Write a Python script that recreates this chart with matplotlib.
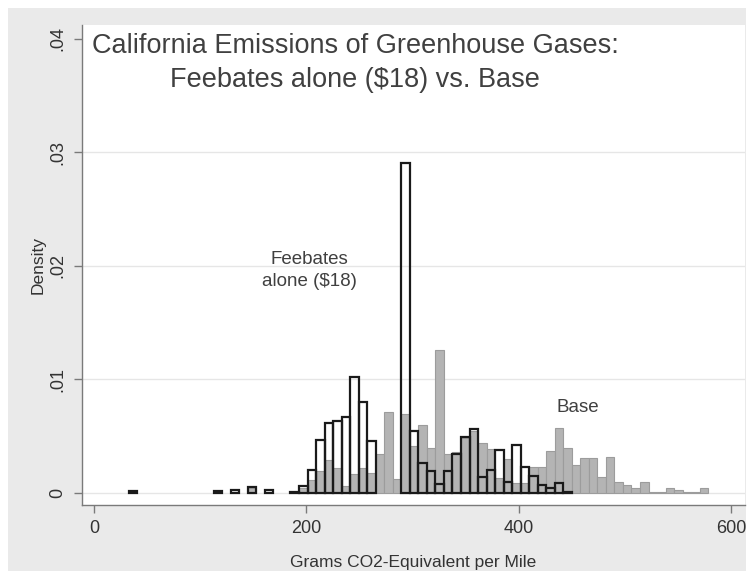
#!/usr/bin/env python
"""Overlayed density histograms of CO2 emissions: feebates alone vs. base."""

import numpy as np
import matplotlib.pyplot as plt
from matplotlib.patches import Rectangle

# bins shared by both histograms (grams CO2-equivalent per mile)
bin_start = 32.5
bin_width = 8.03
n_bins = 68

# density per bin
feebates = [
    0.0002, 0, 0, 0, 0, 0, 0, 0, 0, 0,
    0.0002, 0, 0.0003, 0, 0.0005, 0, 0.0003, 0, 0, 0.0001,
    0.0006, 0.0020, 0.0047, 0.0062, 0.0063, 0.0067, 0.0102, 0.0080, 0.0046, 0,
    0, 0, 0.0291, 0.0055, 0.0026, 0.0019, 0.0008, 0.0019, 0.0034, 0.0049,
    0.0056, 0.0014, 0.0020, 0.0038, 0.0010, 0.0042, 0.0023, 0.0015, 0.0007, 0.0004,
    0.0009, 0.0001, 0, 0, 0, 0, 0, 0, 0, 0,
    0, 0, 0, 0, 0, 0, 0, 0,
]
base = [
    0, 0, 0, 0, 0, 0, 0, 0, 0, 0,
    0, 0, 0, 0, 0.0004, 0, 0, 0, 0, 0,
    0.0004, 0.0011, 0.0019, 0.0029, 0.0022, 0.0006, 0.0017, 0.0022, 0.0018, 0.0034,
    0.0071, 0.0012, 0.0070, 0.0041, 0.0060, 0.0040, 0.0126, 0.0034, 0.0036, 0.0048,
    0.0055, 0.0044, 0.0039, 0.0013, 0.0030, 0.0009, 0.0009, 0.0023, 0.0023, 0.0037,
    0.0057, 0.0040, 0.0025, 0.0031, 0.0031, 0.0014, 0.0032, 0.0010, 0.0007, 0.0004,
    0.0010, 0.0001, 0.00005, 0.0004, 0.0003, 0.0001, 0.00005, 0.0004,
]

x_ticks = [0, 200, 400, 600]
y_ticks = [0, 0.01, 0.02, 0.03, 0.04]
y_tick_labels = ["0", ".01", ".02", ".03", ".04"]

title = "California Emissions of Greenhouse Gases:\nFeebates alone ($18) vs. Base"
x_label = "Grams CO2-Equivalent per Mile"
y_label = "Density"


def plot_histograms():
    """Draw the two overlaid histograms and save them to out.png."""
    plt.rcParams["font.family"] = ["Liberation Sans", "DejaVu Sans"]

    lefts = bin_start + bin_width * np.arange(n_bins)
    feebates_arr = np.array(feebates)
    base_arr = np.array(base)

    figure = plt.figure(figsize=(7.54, 5.74), dpi=100)
    figure.patches.append(
        Rectangle((8 / 754, 1 - 571 / 574), 738 / 754, 563 / 574,
                  transform=figure.transFigure, facecolor="#eaeaea",
                  edgecolor="none", zorder=-10)
    )
    axis = figure.add_axes([82 / 754, 1 - 505 / 574, 663 / 754, 480 / 574])
    axis.set_facecolor("white")

    for value in y_ticks[:-1]:
        axis.axhline(value, color="#e6e6e6", lw=1.0, zorder=0)

    keep = base_arr > 0
    axis.bar(lefts[keep], base_arr[keep], width=bin_width, align="edge",
             color="#b4b4b4", edgecolor="#9c9c9c", linewidth=0.8, zorder=2)

    keep = feebates_arr > 0
    axis.bar(lefts[keep], feebates_arr[keep], width=bin_width, align="edge",
             facecolor="none", edgecolor="#1a1a1a", linewidth=1.6, zorder=3)

    axis.text(203, 0.0196, "Feebates\nalone ($18)", ha="center", va="center",
              fontsize=13.5, color="#404040", linespacing=1.45)
    axis.text(456, 0.0075, "Base", ha="center", va="center",
              fontsize=13.5, color="#404040")

    figure.text(355 / 754, 1 - 63 / 574, title, ha="center", va="center",
                fontsize=19.5, color="#404040", linespacing=1.42)

    axis.set_xlim(-11.3, 613.2)
    axis.set_ylim(-0.00106, 0.04123)
    axis.set_xticks(x_ticks)
    axis.set_yticks(y_ticks)
    axis.set_yticklabels(y_tick_labels, rotation=90, va="center")

    for side in ["top", "right"]:
        axis.spines[side].set_visible(False)
    for side in ["left", "bottom"]:
        axis.spines[side].set_color("#7a7a7a")
        axis.spines[side].set_linewidth(1.0)
    axis.tick_params(colors="#7a7a7a", labelcolor="#333333", labelsize=13,
                     length=6, width=1.0, pad=5)

    axis.set_xlabel(x_label, fontsize=12.5, color="#333333", labelpad=13)
    axis.set_ylabel(y_label, fontsize=12.5, color="#333333", labelpad=3)

    figure.savefig("out.png", dpi=100)


if __name__ == "__main__":
    plot_histograms()
